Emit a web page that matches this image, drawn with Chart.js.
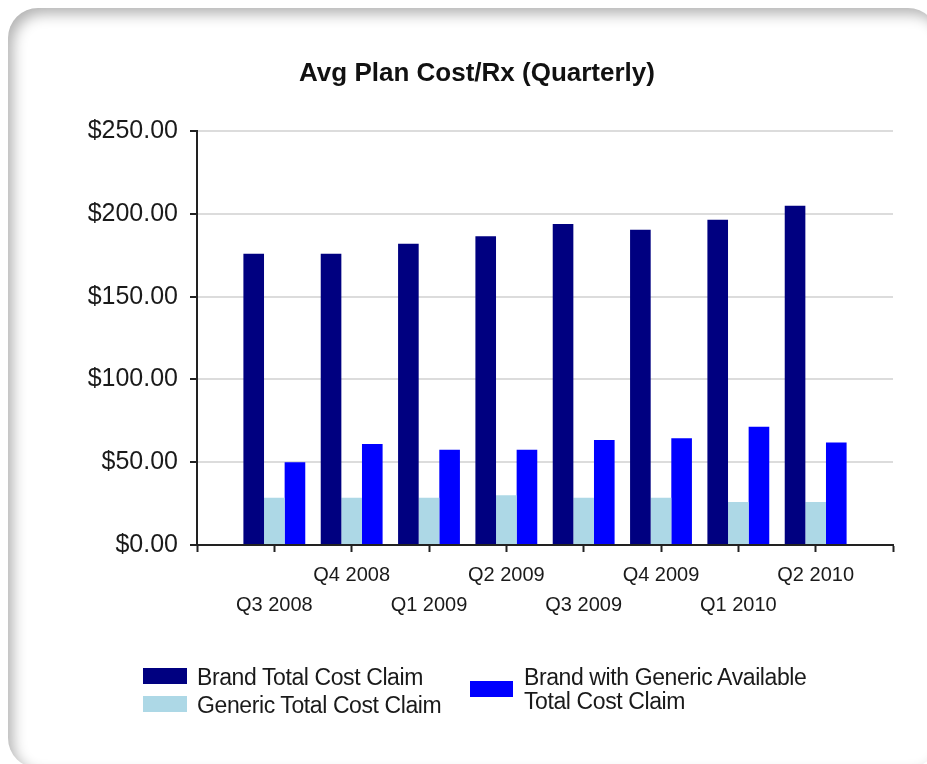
<!DOCTYPE html>
<html>
<head>
<meta charset="utf-8">
<script src="https://cdn.jsdelivr.net/npm/chart.js@4/dist/chart.umd.min.js"></script>
<style>
  html, body { margin: 0; padding: 0; background: #ffffff; width: 927px; height: 764px; overflow: hidden; }
  #card { position: absolute; left: 8px; top: 8px; width: 930px; height: 760px; border-radius: 30px;
          background: #ffffff; box-shadow: inset 5px 6px 14px rgba(0,0,0,0.30); }
  #c { position: absolute; left: 0; top: 0; }
  .lg { position: absolute; font-family: "Liberation Sans", Arial, sans-serif; font-size: 23px; color: #1a1a1a; line-height: 24px; letter-spacing: -0.4px; }
  .sw { position: absolute; }
</style>
</head>
<body>
<div id="card"></div>
<canvas id="c" width="927" height="764"></canvas>
<div id="legend"></div>
<script>
// ---- data ----
const categories = ['Q3 2008', 'Q4 2008', 'Q1 2009', 'Q2 2009', 'Q3 2009', 'Q4 2009', 'Q1 2010', 'Q2 2010'];
const brandTotal = [176, 176, 182, 186.5, 194, 190.5, 196.5, 205];
const genericTotal = [28.5, 28.5, 28.5, 30, 28.5, 28.5, 26, 26];
const brandWithGeneric = [50, 61, 57.5, 57.5, 63.5, 64.5, 71.5, 62];
const seriesNames = ['Brand Total Cost Claim', 'Generic Total Cost Claim', 'Brand with Generic Available Total Cost Claim'];
const seriesColors = ['#000080', '#ADD8E6', '#0000FF'];
const yTicks = [0, 50, 100, 150, 200, 250];

// pad with an empty slot on each side (axis has half-slot margins)
const labels = [''].concat(categories, ['']);
const pad = arr => [null].concat(arr, [null]);

const FONT = '"Liberation Sans", Arial, sans-serif';

new Chart(document.getElementById('c'), {
  type: 'bar',
  data: {
    labels: labels,
    datasets: [
      { label: seriesNames[0], data: pad(brandTotal), backgroundColor: seriesColors[0] },
      { label: seriesNames[1], data: pad(genericTotal), backgroundColor: seriesColors[1] },
      { label: seriesNames[2], data: pad(brandWithGeneric), backgroundColor: seriesColors[2] }
    ]
  },
  options: {
    responsive: false,
    animation: false,
    devicePixelRatio: 1,
    datasets: { bar: { categoryPercentage: 0.8, barPercentage: 1.0, borderWidth: 0 } },
    layout: { padding: { left: 61, right: 34, top: 0, bottom: 0 } },
    plugins: {
      legend: { display: false },
      tooltip: { enabled: false },
      title: {
        display: true,
        text: 'Avg Plan Cost/Rx (Quarterly)',
        color: '#111',
        font: { family: FONT, size: 26, weight: 'bold', lineHeight: 1.2 },
        padding: { top: 58, bottom: 42 }
      }
    },
    scales: {
      x: {
        offset: false,
        grid: { display: true, offset: false, drawOnChartArea: false, drawTicks: true, tickLength: 7, tickColor: '#222', tickWidth: 2 },
        border: { display: true, color: '#222', width: 2 },
        ticks: {
          autoSkip: false, maxRotation: 0, minRotation: 0, padding: 8,
          color: '#1a1a1a',
          font: { family: FONT, size: 20, lineHeight: 1.5 },
          callback: function (value, index) {
            const lab = this.getLabelForValue(value);
            if (!lab) return '';
            return (index % 2 === 1) ? ['', lab] : lab;
          }
        },
        afterFit: function (scale) { scale.height = 219; }
      },
      y: {
        min: 0, max: 250,
        afterBuildTicks: function (scale) { scale.ticks = yTicks.map(v => ({ value: v })); },
        grid: { color: '#dcdcdc', lineWidth: 2, tickColor: '#222', tickLength: 7, tickWidth: 2 },
        border: { display: true, color: '#222', width: 2 },
        ticks: {
          padding: 12,
          color: '#1a1a1a',
          font: { family: FONT, size: 25 },
          callback: v => '$' + Number(v).toFixed(2)
        },
        afterFit: function (scale) { scale.width = 136; }
      }
    }
  }
});

// ---- HTML legend built from series arrays ----
const legendPos = [
  { sx: 143, sy: 668, sw: 44, tx: 197, ty: 665, w: 280 },
  { sx: 143, sy: 696, sw: 44, tx: 197, ty: 693, w: 280 },
  { sx: 470, sy: 681, sw: 43, tx: 524, ty: 665, w: 310 }
];
const lg = document.getElementById('legend');
seriesNames.forEach((name, i) => {
  const p = legendPos[i];
  const s = document.createElement('div');
  s.className = 'sw';
  s.style.cssText = `left:${p.sx}px;top:${p.sy}px;width:${p.sw}px;height:16px;background:${seriesColors[i]};`;
  lg.appendChild(s);
  const t = document.createElement('div');
  t.className = 'lg';
  t.style.cssText = `left:${p.tx}px;top:${p.ty}px;width:${p.w}px;`;
  t.textContent = name;
  lg.appendChild(t);
});
</script>
</body>
</html>
